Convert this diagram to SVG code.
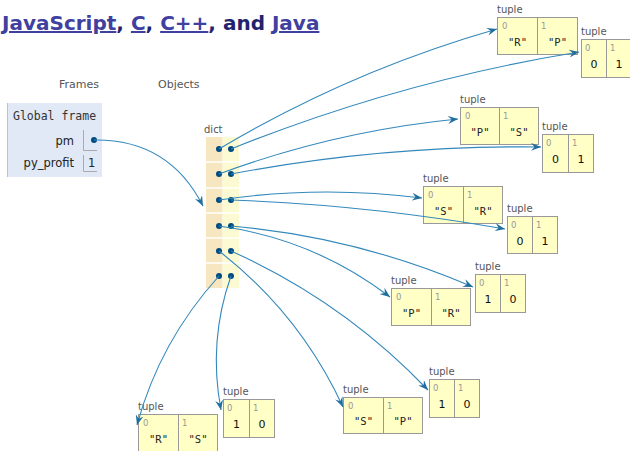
<svg xmlns="http://www.w3.org/2000/svg" width="630" height="451" viewBox="0 0 630 451">
<defs>
<marker id="ah" viewBox="0 0 10 8" refX="10" refY="4" markerWidth="10" markerHeight="8" orient="auto" markerUnits="userSpaceOnUse">
<path d="M0,0 L10,4 L0,8 L3.6,4 z" fill="#1f6e9e"/>
</marker>
<style>
.hdr{font-family:"DejaVu Sans",Verdana,sans-serif;font-size:11px;fill:#555}
.lnk{fill:#4040a0;text-decoration:underline}
.pl{fill:#22226e}
.fr{fill:#e0e9f5}
.mono{font-family:"DejaVu Sans Mono",monospace;font-size:11.5px;fill:#333}
.var{font-family:"DejaVu Sans",Verdana,sans-serif;font-size:11.5px;fill:#222;text-anchor:end}
.cellb{fill:none;stroke:#aaa;stroke-width:1}
.lbl{font-family:"DejaVu Sans",Verdana,sans-serif;font-size:10px;fill:#555}
.box{fill:#ffffc6;stroke:#999;stroke-width:1}
.idx{font-family:"DejaVu Sans",Verdana,sans-serif;font-size:8.5px;fill:#999}
.str{font-family:"DejaVu Sans Mono",monospace;font-size:10.5px;fill:#222;text-anchor:middle}
.num{font-family:"DejaVu Sans",Verdana,sans-serif;font-size:11px;fill:#111;text-anchor:middle}
.dot{fill:#004c80}
.con{fill:none;stroke:#3388bb;stroke-width:1.1;marker-end:url(#ah)}
</style>
</defs>
<rect width="630" height="451" fill="#fff"/>
<text x="2" y="30" font-family="DejaVu Sans,Verdana,sans-serif" font-weight="bold" font-size="20"><tspan class="lnk">JavaScript</tspan><tspan class="pl">, </tspan><tspan class="lnk">C</tspan><tspan class="pl">, </tspan><tspan class="lnk">C++</tspan><tspan class="pl">, and </tspan><tspan class="lnk">Java</tspan></text>
<text class="hdr" x="59" y="88">Frames</text>
<text class="hdr" x="158" y="88">Objects</text>

<g id="global-frame">
<rect class="fr" x="7" y="103" width="95" height="74"/>
<line x1="7.5" y1="103" x2="7.5" y2="177" stroke="#b5c3d6" stroke-width="1"/>
<text class="mono" x="13" y="120">Global frame</text>
<text class="var" x="74" y="145">pm</text>
<path class="cellb" d="M83.5,130 V150.5 H97"/>
<circle class="dot" cx="94" cy="140" r="3"/>
<text class="var" x="74" y="167">py_profit</text>
<path class="cellb" d="M83.5,155 V171.5 H97"/>
<text class="var" x="88" y="167" style="text-anchor:start">1</text>
</g>

<g id="dict">
<text class="lbl" x="204" y="133">dict</text>
<rect x="206" y="137" width="16.5" height="151" fill="#f7e7c0"/>
<rect x="222.5" y="137" width="16.5" height="151" fill="#fbfad2"/>
<g stroke="#fff" stroke-width="1.5">
<line x1="206" y1="162" x2="239" y2="162"/>
<line x1="206" y1="188" x2="239" y2="188"/>
<line x1="206" y1="213" x2="239" y2="213"/>
<line x1="206" y1="238" x2="239" y2="238"/>
<line x1="206" y1="263" x2="239" y2="263"/>
</g>
<g class="dot">
<circle cx="219" cy="149" r="3"/><circle cx="231" cy="149" r="3"/>
<circle cx="219" cy="174" r="3"/><circle cx="231" cy="174" r="3"/>
<circle cx="219" cy="200" r="3"/><circle cx="231" cy="200" r="3"/>
<circle cx="219" cy="226" r="3"/><circle cx="231" cy="226" r="3"/>
<circle cx="219" cy="251" r="3"/><circle cx="231" cy="251" r="3"/>
<circle cx="219" cy="276" r="3"/><circle cx="231" cy="276" r="3"/>
</g>
</g>

<g id="t1">
<text class="lbl" x="497" y="13">tuple</text>
<rect class="box" x="497.5" y="17.5" width="80" height="37"/>
<line x1="537.5" y1="17.5" x2="537.5" y2="54.5" stroke="#999"/>
<text class="idx" x="502" y="29">0</text><text class="idx" x="541" y="29">1</text>
<text class="str" x="517.5" y="46">"R"</text><text class="str" x="557.5" y="46">"P"</text>
</g>
<g id="t2">
<text class="lbl" x="581" y="35">tuple</text>
<rect class="box" x="581.5" y="39.5" width="50" height="38"/>
<line x1="606.5" y1="39.5" x2="606.5" y2="77.5" stroke="#999"/>
<text class="idx" x="585" y="51">0</text><text class="idx" x="610" y="51">1</text>
<text class="num" x="594" y="68">0</text><text class="num" x="619" y="68">1</text>
</g>
<g id="t3">
<text class="lbl" x="460" y="103">tuple</text>
<rect class="box" x="460.5" y="107.5" width="78" height="37"/>
<line x1="499.5" y1="107.5" x2="499.5" y2="144.5" stroke="#999"/>
<text class="idx" x="465" y="119">0</text><text class="idx" x="503" y="119">1</text>
<text class="str" x="480" y="136">"P"</text><text class="str" x="519" y="136">"S"</text>
</g>
<g id="t4">
<text class="lbl" x="542" y="130">tuple</text>
<rect class="box" x="542.5" y="134.5" width="51" height="38"/>
<line x1="568.5" y1="134.5" x2="568.5" y2="172.5" stroke="#999"/>
<text class="idx" x="546" y="146">0</text><text class="idx" x="572" y="146">1</text>
<text class="num" x="555.5" y="163">0</text><text class="num" x="581" y="163">1</text>
</g>
<g id="t5">
<text class="lbl" x="423" y="182">tuple</text>
<rect class="box" x="423.5" y="186.5" width="79" height="37"/>
<line x1="463.5" y1="186.5" x2="463.5" y2="223.5" stroke="#999"/>
<text class="idx" x="428" y="198">0</text><text class="idx" x="467" y="198">1</text>
<text class="str" x="443.5" y="215">"S"</text><text class="str" x="483" y="215">"R"</text>
</g>
<g id="t6">
<text class="lbl" x="507" y="212">tuple</text>
<rect class="box" x="507.5" y="216.5" width="50" height="37"/>
<line x1="532.5" y1="216.5" x2="532.5" y2="253.5" stroke="#999"/>
<text class="idx" x="511" y="228">0</text><text class="idx" x="536" y="228">1</text>
<text class="num" x="520" y="245">0</text><text class="num" x="545" y="245">1</text>
</g>
<g id="t7">
<text class="lbl" x="391" y="284">tuple</text>
<rect class="box" x="391.5" y="288.5" width="79" height="37"/>
<line x1="431.5" y1="288.5" x2="431.5" y2="325.5" stroke="#999"/>
<text class="idx" x="396" y="300">0</text><text class="idx" x="435" y="300">1</text>
<text class="str" x="411.5" y="317">"P"</text><text class="str" x="451" y="317">"R"</text>
</g>
<g id="t8">
<text class="lbl" x="475" y="270">tuple</text>
<rect class="box" x="475.5" y="274.5" width="50" height="38"/>
<line x1="500.5" y1="274.5" x2="500.5" y2="312.5" stroke="#999"/>
<text class="idx" x="479" y="286">0</text><text class="idx" x="504" y="286">1</text>
<text class="num" x="488" y="303">1</text><text class="num" x="513" y="303">0</text>
</g>
<g id="t9">
<text class="lbl" x="138" y="410">tuple</text>
<rect class="box" x="138.5" y="414.5" width="79" height="37"/>
<line x1="178.5" y1="414.5" x2="178.5" y2="451.5" stroke="#999"/>
<text class="idx" x="143" y="426">0</text><text class="idx" x="182" y="426">1</text>
<text class="str" x="158.5" y="443">"R"</text><text class="str" x="198" y="443">"S"</text>
</g>
<g id="t10">
<text class="lbl" x="223" y="395">tuple</text>
<rect class="box" x="223.5" y="399.5" width="51" height="38"/>
<line x1="249.5" y1="399.5" x2="249.5" y2="437.5" stroke="#999"/>
<text class="idx" x="227" y="411">0</text><text class="idx" x="253" y="411">1</text>
<text class="num" x="236.5" y="428">1</text><text class="num" x="262" y="428">0</text>
</g>
<g id="t11">
<text class="lbl" x="343" y="393">tuple</text>
<rect class="box" x="343.5" y="397.5" width="79" height="36"/>
<line x1="383.5" y1="397.5" x2="383.5" y2="433.5" stroke="#999"/>
<text class="idx" x="348" y="409">0</text><text class="idx" x="387" y="409">1</text>
<text class="str" x="363.5" y="425">"S"</text><text class="str" x="403" y="425">"P"</text>
</g>
<g id="t12">
<text class="lbl" x="429" y="375">tuple</text>
<rect class="box" x="429.5" y="379.5" width="50" height="38"/>
<line x1="454.5" y1="379.5" x2="454.5" y2="417.5" stroke="#999"/>
<text class="idx" x="433" y="391">0</text><text class="idx" x="458" y="391">1</text>
<text class="num" x="442" y="408">1</text><text class="num" x="467" y="408">0</text>
</g>

<g id="connectors">
<path class="con" d="M94,140 Q169,139 203,206"/>
<path class="con" d="M219,149 Q350,71 497,29"/>
<path class="con" d="M231,149 Q400,81 579,52"/>
<path class="con" d="M219,174 Q335,131 458,119"/>
<path class="con" d="M231,174 Q385,145 541,147"/>
<path class="con" d="M219,200 Q320,185 422,198"/>
<path class="con" d="M231,200 Q369,205 505,229"/>
<path class="con" d="M219,226 Q314,239 390,297"/>
<path class="con" d="M231,226 Q357,237 473,287"/>
<path class="con" d="M219,251 Q300,314 343,407"/>
<path class="con" d="M231,251 Q343,301 428,390"/>
<path class="con" d="M219,276 Q160,341 137,425"/>
<path class="con" d="M231,276 Q208,341 221,410"/>
</g>
</svg>
